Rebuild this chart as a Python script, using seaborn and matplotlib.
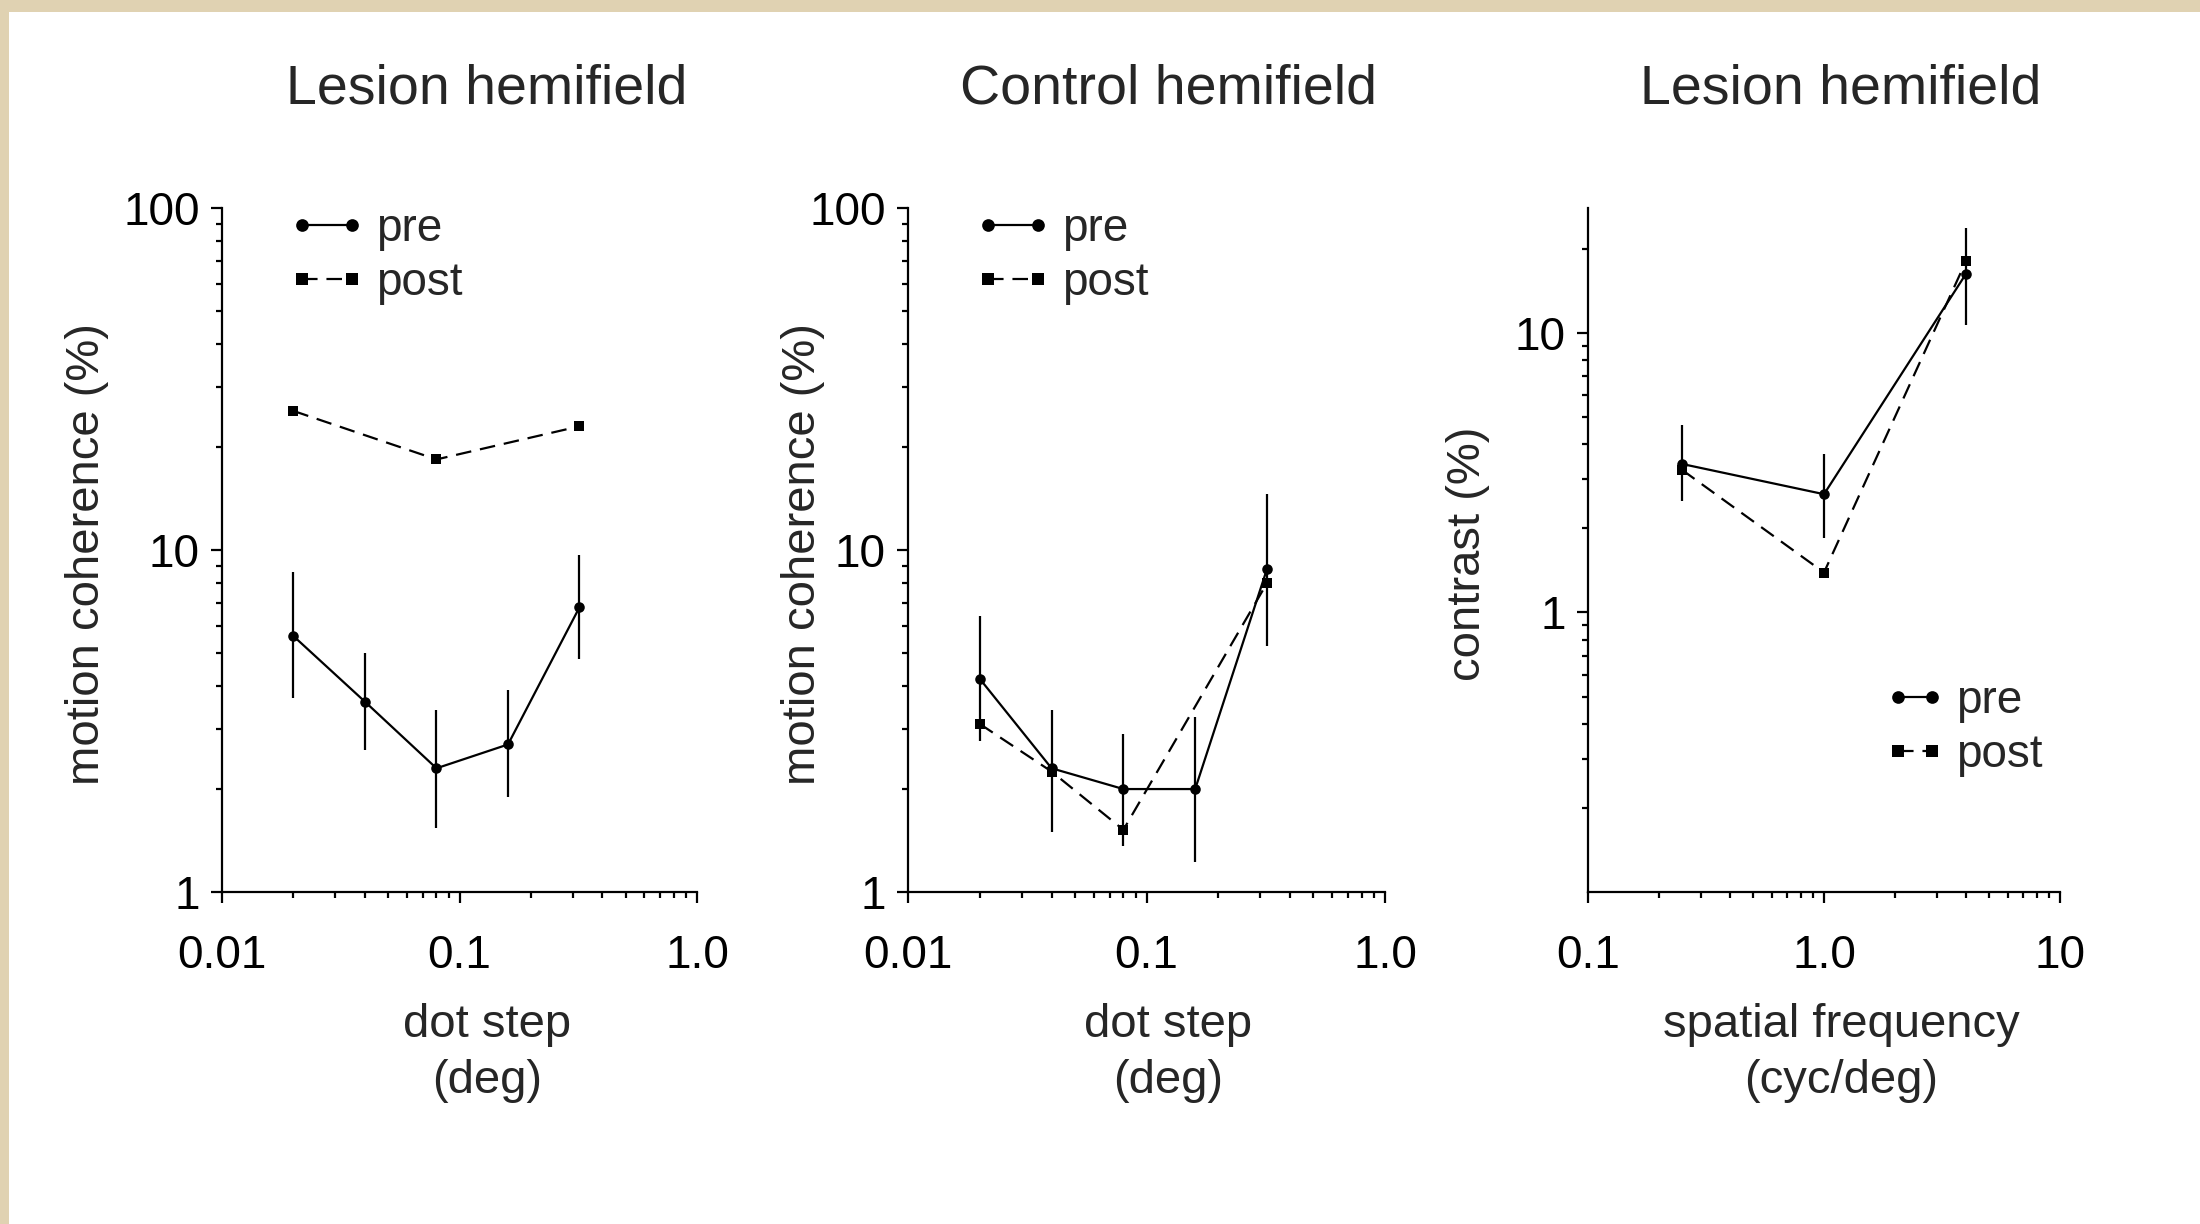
import seaborn as sns
import pandas as pd
import numpy as np
import matplotlib.pyplot as plt
from matplotlib.ticker import LogLocator, NullFormatter, FixedLocator, FixedFormatter

### Datos
## Panel 1: hemicampo lesionado, coherencia de movimiento
dot_step_pre = [0.02, 0.04, 0.08, 0.16, 0.32]
lesion_pre = [5.6, 3.6, 2.3, 2.7, 6.8]
lesion_pre_lo = [3.7, 2.6, 1.54, 1.9, 4.8]
lesion_pre_hi = [8.6, 5.0, 3.4, 3.9, 9.7]
dot_step_post = [0.02, 0.08, 0.32]
lesion_post = [25.5, 18.4, 23.0]

## Panel 2: hemicampo control, coherencia de movimiento
control_pre = [4.2, 2.3, 2.0, 2.0, 8.8]
control_pre_lo = [2.76, 1.5, 1.36, 1.22, 5.25]
control_pre_hi = [6.4, 3.4, 2.9, 3.25, 14.6]
dot_step_post_ctrl = [0.02, 0.04, 0.08, 0.32]
control_post = [3.1, 2.25, 1.52, 8.0]

## Panel 3: hemicampo lesionado, contraste
spatial_freq = [0.25, 1.0, 4.0]
contrast_pre = [3.4, 2.65, 16.3]
contrast_pre_lo = [2.5, 1.85, 10.7]
contrast_pre_hi = [4.7, 3.7, 23.7]
contrast_post = [3.24, 1.39, 18.1]

titles = ["Lesion hemifield", "Control hemifield", "Lesion hemifield"]
xlabels = ["dot step\n(deg)", "dot step\n(deg)", "spatial frequency\n(cyc/deg)"]
ylabels = ["motion coherence (%)", "motion coherence (%)", "contrast (%)"]

### Estilo
sns.set_style("ticks")
plt.rcParams['font.family'] = ['Liberation Sans', 'DejaVu Sans']
plt.rcParams['legend.numpoints'] = 2

W, H = 2200, 1224
fig = plt.figure(figsize=(11, 6.12), dpi=200)
fig.patch.set_facecolor('#E0D2B2')
fig.add_artist(plt.Rectangle((9 / W, 0), 1, 1 - 12 / H, transform=fig.transFigure,
                             facecolor='white', edgecolor='none', zorder=0))


def make_df(x_pre, y_pre, x_post, y_post):
    df = pd.DataFrame({"x": list(x_pre) + list(x_post),
                       "y": list(y_pre) + list(y_post),
                       "serie": ["pre"] * len(x_pre) + ["post"] * len(x_post)})
    return df


panels = [
    (make_df(dot_step_pre, lesion_pre, dot_step_post, lesion_post),
     dot_step_pre, lesion_pre_lo, lesion_pre_hi),
    (make_df(dot_step_pre, control_pre, dot_step_post_ctrl, control_post),
     dot_step_pre, control_pre_lo, control_pre_hi),
    (make_df(spatial_freq, contrast_pre, spatial_freq, contrast_post),
     spatial_freq, contrast_pre_lo, contrast_pre_hi),
]

# Posiciones en pixeles (izquierda, derecha) de cada panel
ax_px = [(222, 697), (908, 1385), (1588, 2060)]
top_px, bottom_px = 208, 892
xlims = [(0.01, 1.0), (0.01, 1.0), (0.1, 10)]
ylims = [(1, 100), (1, 100), (0.1, 28)]
xticks = [[0.01, 0.1, 1.0], [0.01, 0.1, 1.0], [0.1, 1.0, 10]]
xticklabels = [["0.01", "0.1", "1.0"], ["0.01", "0.1", "1.0"], ["0.1", "1.0", "10"]]
yticks = [[1, 10, 100], [1, 10, 100], [1, 10]]
yticklabels = [["1", "10", "100"], ["1", "10", "100"], ["1", "10"]]
title_x = [487, 1168, 1841]
ylabel_x = [87, 803, 1468]
legend_anchor = [(288, 207), (974, 207), (1884, 679)]
legend_hlen = [1.7, 1.7, 1.35]

lw = 0.8
for i, (df, xe, lo, hi) in enumerate(panels):
    l, r = ax_px[i]
    ax = fig.add_axes([l / W, 1 - bottom_px / H, (r - l) / W, (bottom_px - top_px) / H])
    ax.set_facecolor('none')
    sns.lineplot(data=df, x="x", y="y", hue="serie", style="serie",
                 hue_order=["pre", "post"], style_order=["pre", "post"],
                 palette={"pre": "black", "post": "black"},
                 markers={"pre": "o", "post": "s"},
                 dashes={"pre": "", "post": (7, 4)},
                 estimator=None, sort=True, errorbar=None, legend=False,
                 linewidth=lw, markersize=3.8, markeredgewidth=0,
                 markeredgecolor='black', ax=ax)
    ax.vlines(xe, lo, hi, color='black', linewidth=lw)

    ax.set_xscale('log')
    ax.set_yscale('log')
    ax.set_xlim(*xlims[i])
    ax.set_ylim(*ylims[i])
    ax.xaxis.set_major_locator(FixedLocator(xticks[i]))
    ax.xaxis.set_major_formatter(FixedFormatter(xticklabels[i]))
    ax.yaxis.set_major_locator(FixedLocator(yticks[i]))
    ax.yaxis.set_major_formatter(FixedFormatter(yticklabels[i]))
    ax.xaxis.set_minor_locator(LogLocator(base=10, subs=np.arange(2, 10)))
    ax.yaxis.set_minor_locator(LogLocator(base=10, subs=np.arange(2, 10)))
    ax.xaxis.set_minor_formatter(NullFormatter())
    ax.yaxis.set_minor_formatter(NullFormatter())
    ax.set_xlabel("")
    ax.set_ylabel("")
    sns.despine(ax=ax)
    for s in ["left", "bottom"]:
        ax.spines[s].set_linewidth(lw)
        ax.spines[s].set_color('black')
    ax.tick_params(which='major', direction='out', length=4, width=lw, colors='black',
                   labelsize=16.5)
    ax.tick_params(which='minor', direction='out', length=2.2, width=lw, colors='black')
    ax.tick_params(axis='x', which='major', pad=11)
    ax.tick_params(axis='y', which='major', pad=4)

    # Leyenda con marcadores en ambos extremos
    hx, hy = legend_anchor[i]
    ax.legend(handles=ax.lines[:2], labels=["pre", "post"], loc='upper left',
              bbox_to_anchor=(hx / W, 1 - hy / H), bbox_transform=fig.transFigure,
              frameon=False, fontsize=16.5, handlelength=legend_hlen[i], handletextpad=0.22,
              labelspacing=0.22, borderpad=0, borderaxespad=0, numpoints=2,
              markerscale=1.2)

    # Textos
    fig.text(title_x[i] / W, 1 - 90 / H, titles[i], ha='center', va='center', fontsize=20)
    fig.text(title_x[i] / W, 1 - 1053 / H, xlabels[i], ha='center', va='center',
             fontsize=17, linespacing=1.35)
    fig.text(ylabel_x[i] / W, 1 - 554 / H, ylabels[i], ha='center', va='center',
             rotation=90, fontsize=17)

plt.savefig("out.png", dpi=200, facecolor=fig.get_facecolor())
